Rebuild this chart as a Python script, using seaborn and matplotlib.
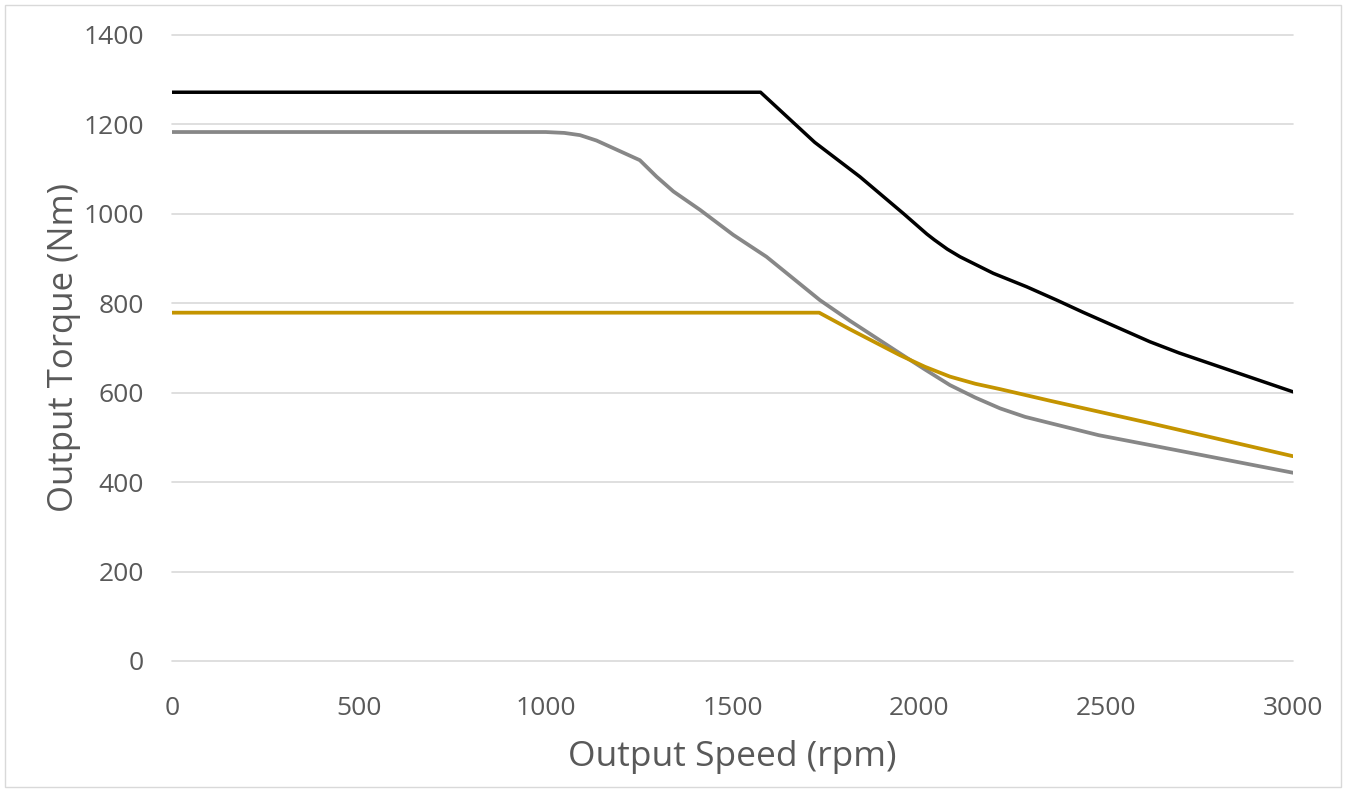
import matplotlib
matplotlib.use("Agg")
import matplotlib.pyplot as plt
import seaborn as sns
import pandas as pd
from matplotlib.patches import Rectangle

# Data
black_speed = [0, 1575, 1720, 1841, 1957, 2020, 2040, 2075, 2109, 2198, 2287, 2368, 2438, 2617, 2695, 3000]
black_torque = [1272, 1272, 1160, 1083, 1001, 955, 942, 921, 904, 867, 837, 807, 780, 714, 689, 602]

gray_speed = [0, 1000, 1050, 1092, 1136, 1252, 1297, 1342, 1413, 1502, 1591, 1734, 1814, 1948,
              2015, 2082, 2150, 2216, 2283, 2350, 2480, 2617, 3000]
gray_torque = [1183, 1183, 1181, 1176, 1164, 1120, 1083, 1050, 1009, 953, 904, 807, 761, 688,
               652, 617, 589, 565, 546, 532, 505, 483, 421]

gold_speed = [0, 1732, 1814, 1948, 2015, 2082, 2150, 2216, 2350, 2617, 3000]
gold_torque = [779, 779, 742, 684, 658, 636, 620, 608, 582, 532, 458]

x_ticks = [0, 500, 1000, 1500, 2000, 2500, 3000]
y_ticks = [0, 200, 400, 600, 800, 1000, 1200, 1400]
x_label = "Output Speed (rpm)"
y_label = "Output Torque (Nm)"

sns.set_theme(style="white")
plt.rcParams['font.family'] = ['Open Sans', 'DejaVu Sans']

fig = plt.figure(figsize=(13.46, 7.9), dpi=100)
ax = fig.add_axes([0.1278, 0.1633, 0.8328, 0.7924])

df_black = pd.DataFrame({"speed": black_speed, "torque": black_torque})
df_gray = pd.DataFrame({"speed": gray_speed, "torque": gray_torque})
df_gold = pd.DataFrame({"speed": gold_speed, "torque": gold_torque})

sns.lineplot(data=df_gray, x="speed", y="torque", ax=ax, color="#878787", lw=2.7, sort=False, zorder=3)
sns.lineplot(data=df_gold, x="speed", y="torque", ax=ax, color="#C49400", lw=2.7, sort=False, zorder=4)
sns.lineplot(data=df_black, x="speed", y="torque", ax=ax, color="#000000", lw=2.5, sort=False, zorder=5)
for ln in ax.get_lines():
    ln.set_solid_joinstyle("round")

ax.set_xlim(0, 3000)
ax.set_ylim(0, 1400)
ax.set_xticks(x_ticks)
ax.set_yticks(y_ticks)
ax.grid(axis="y", color="#d9d9d9", lw=1.2)
ax.grid(axis="x", visible=False)
for gl in ax.get_ygridlines():
    gl.set_clip_on(False)
for s in ax.spines.values():
    s.set_visible(False)
ax.tick_params(axis="both", colors="#595959", labelsize=19, length=0)
ax.tick_params(axis="x", pad=25)
ax.tick_params(axis="y", pad=20)
ax.set_xlabel(x_label, fontsize=25.5, color="#595959", labelpad=14)
ax.set_ylabel(y_label, fontsize=25, color="#595959", labelpad=2)

fig.patches.append(Rectangle((0.004, 0.004), 0.992, 0.99, transform=fig.transFigure,
                             fill=False, edgecolor="#d9d9d9", lw=1.0))

fig.savefig("out.png", dpi=100)
